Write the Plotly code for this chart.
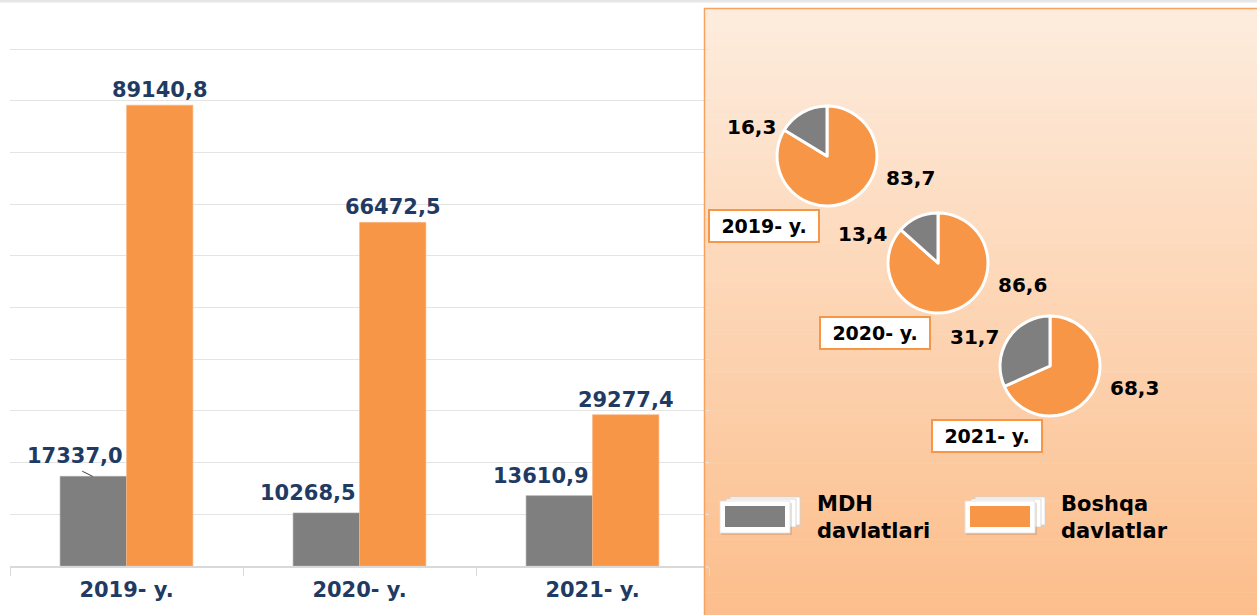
import plotly.graph_objects as go

# ---------------- data ----------------
years = ["2019- y.", "2020- y.", "2021- y."]
mdh_values = [17337.0, 10268.5, 13610.9]        # MDH davlatlari
other_values = [89140.8, 66472.5, 29277.4]      # Boshqa davlatlar
mdh_share = [16.3, 13.4, 31.7]
other_share = [83.7, 86.6, 68.3]
series_names = ["MDH<br>davlatlari", "Boshqa<br>davlatlar"]

# ---------------- style ----------------
W, H = 1257, 615
GRAY = "#7F7F7F"
ORANGE = "#F79646"
NAVY = "#1F3B63"
FONT = "DejaVu Sans"


def X(px):
    return px / W


def Y(py):
    return 1 - py / H


def fmt(v):
    return f"{v:.1f}".replace(".", ",")


fig = go.Figure()

fig.add_trace(go.Bar(
    x=years, y=mdh_values, name="MDH davlatlari",
    marker=dict(color=GRAY, line=dict(color="#A6A6A6", width=0.6)),
    showlegend=False, hoverinfo="skip",
))
fig.add_trace(go.Bar(
    x=years, y=other_values, name="Boshqa davlatlar",
    marker=dict(color=ORANGE, line=dict(color="#FAB888", width=0.6)),
    text=[fmt(v) for v in other_values], textposition="outside",
    constraintext="none",
    textfont=dict(family=FONT, size=21, color=NAVY, weight="bold"),
    cliponaxis=False, showlegend=False, hoverinfo="skip",
))

shapes = []
annotations = []

# gray bar labels (shifted left like the original)
for i, v in enumerate(mdh_values):
    annotations.append(dict(
        x=i, y=v, xref="x", yref="y", text=fmt(v), showarrow=False,
        xanchor="center", yanchor="bottom", xshift=-52, yshift=6,
        font=dict(family=FONT, size=21, color=NAVY, weight="bold"),
    ))
# small leader line of the first gray label
shapes.append(dict(type="line", xref="x", yref="y",
                   x0=-0.19, x1=-0.145, y0=mdh_values[0] + 1000, y1=mdh_values[0],
                   line=dict(color="#404040", width=1)))

# top thin line
shapes.append(dict(type="line", xref="paper", yref="paper", x0=0, x1=1,
                   y0=Y(1), y1=Y(1), line=dict(color="#E6E6E6", width=3), layer="below"))

# right panel gradient
top_c = (253, 236, 221)
bot_c = (252, 190, 140)
y_top, y_bot = 8, 615
n = 80
for k in range(n):
    t = k / (n - 1)
    c = tuple(round(top_c[j] + (bot_c[j] - top_c[j]) * t) for j in range(3))
    ya = y_top + (y_bot - y_top) * k / n
    yb = y_top + (y_bot - y_top) * (k + 1) / n + 0.6
    shapes.append(dict(type="rect", xref="paper", yref="paper",
                       x0=X(704), x1=1, y0=Y(yb), y1=Y(ya),
                       fillcolor=f"rgb{c}", line=dict(width=0), layer="below"))
shapes.append(dict(type="rect", xref="paper", yref="paper",
                   x0=X(704.5), x1=X(1258), y0=Y(616), y1=Y(8.5),
                   fillcolor="rgba(0,0,0,0)", line=dict(color="#F5A35F", width=1.5),
                   layer="above"))

# pies (orange first, clockwise from 12 o'clock -> gray slice ends at 12 on the left)
centers = [(827, 156), (938, 263), (1050, 366)]
diam = 100
for i, (cx, cy) in enumerate(centers):
    fig.add_trace(go.Pie(
        values=[other_share[i], mdh_share[i]],
        labels=["Boshqa davlatlar", "MDH davlatlari"],
        marker=dict(colors=[ORANGE, GRAY], line=dict(color="white", width=3)),
        sort=False, direction="clockwise", rotation=0,
        textinfo="none", hoverinfo="skip", showlegend=False,
        domain=dict(x=[X(cx - diam / 2), X(cx + diam / 2)],
                    y=[Y(cy + diam / 2), Y(cy - diam / 2)]),
    ))
    annotations.append(dict(
        x=X(cx - 76), y=Y(cy - 29), xref="paper", yref="paper",
        xanchor="center", yanchor="middle",
        text=fmt(mdh_share[i]), showarrow=False,
        font=dict(family=FONT, size=20, color="black", weight="bold")))
    annotations.append(dict(
        x=X(cx + 84), y=Y(cy + 22), xref="paper", yref="paper",
        xanchor="center", yanchor="middle",
        text=fmt(other_share[i]), showarrow=False,
        font=dict(family=FONT, size=20, color="black", weight="bold")))
    annotations.append(dict(
        x=X(cx - 63), y=Y(cy + 70), xref="paper", yref="paper",
        xanchor="center", yanchor="middle",
        text=years[i], showarrow=False, width=106, height=28,
        bgcolor="white", bordercolor="#F79646", borderwidth=2, borderpad=1,
        font=dict(family=FONT, size=19, color="black", weight="bold")))

# legend (custom icons)
legend_items = [(720, GRAY, 815), (965, ORANGE, 1059)]
for (x0, col, tx), name in zip(legend_items, series_names):
    for dx, dy in [(10, -4), (6, -2)]:
        shapes.append(dict(type="rect", xref="paper", yref="paper",
                           x0=X(x0 + dx), x1=X(x0 + 70 + dx), y0=Y(533 + dy - 4), y1=Y(501 + dy),
                           fillcolor="white", line=dict(color="#D0D0D0", width=0.8)))
    shapes.append(dict(type="rect", xref="paper", yref="paper",
                       x0=X(x0 + 1), x1=X(x0 + 72), y0=Y(535), y1=Y(503),
                       fillcolor="rgba(120,80,40,0.18)", line=dict(width=0)))
    shapes.append(dict(type="rect", xref="paper", yref="paper",
                       x0=X(x0), x1=X(x0 + 70), y0=Y(533), y1=Y(501),
                       fillcolor="white", line=dict(color="#E0E0E0", width=0.8)))
    shapes.append(dict(type="rect", xref="paper", yref="paper",
                       x0=X(x0 + 5), x1=X(x0 + 65), y0=Y(527), y1=Y(506),
                       fillcolor=col, line=dict(width=0)))
    annotations.append(dict(
        x=X(tx), y=Y(517), xref="paper", yref="paper", text=name,
        showarrow=False, xanchor="left", yanchor="middle", align="left",
        font=dict(family=FONT, size=21, color="black", weight="bold")))

fig.update_layout(
    width=W, height=H,
    margin=dict(l=0, r=0, t=0, b=0, pad=0),
    paper_bgcolor="white", plot_bgcolor="rgba(0,0,0,0)",
    barmode="group", bargap=0.43, bargroupgap=0,
    shapes=shapes, annotations=annotations,
    xaxis=dict(domain=[X(10), X(709)], type="category",
               showline=True, linecolor="#D9D9D9", linewidth=1.5,
               ticks="outside", tickson="boundaries", ticklen=8, tickcolor="#D9D9D9",
               ticklabelstandoff=4, showgrid=False,
               tickfont=dict(family=FONT, size=21, color=NAVY, weight="bold")),
    yaxis=dict(domain=[Y(566), Y(48)], range=[0, 100200], dtick=10000,
               showgrid=True, gridcolor="#E4E4E4", gridwidth=1,
               showticklabels=False, zeroline=False, showline=False),
)

fig.write_html("out.html", config={"displayModeBar": False},
               post_script="document.body.style.margin='0';")
